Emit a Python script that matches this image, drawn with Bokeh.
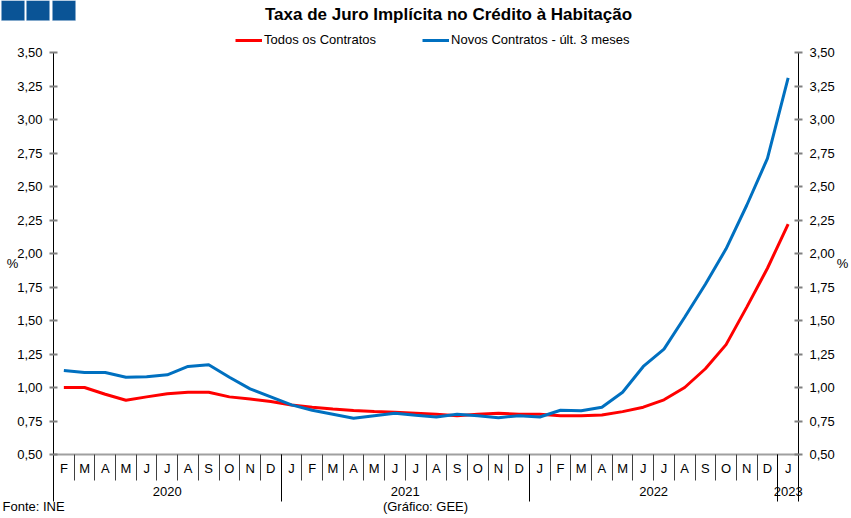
from bokeh.plotting import figure
from bokeh.models import (Range1d, LinearAxis, FixedTicker, Legend, LegendItem,
                          Label, BoxAnnotation, ColumnDataSource)
from bokeh.embed import file_html
from bokeh.resources import INLINE

# ---------------- data ----------------
months = ["F", "M", "A", "M", "J", "J", "A", "S", "O", "N", "D",
          "J", "F", "M", "A", "M", "J", "J", "A", "S", "O", "N", "D",
          "J", "F", "M", "A", "M", "J", "J", "A", "S", "O", "N", "D",
          "J"]
years = ["2020", "2021", "2022", "2023"]
months_per_year = [11, 12, 12, 1]

todos = [1.00, 1.00, 0.95, 0.905, 0.93, 0.953, 0.965, 0.965, 0.93, 0.915, 0.895,
         0.87, 0.853, 0.84, 0.828, 0.82, 0.815, 0.808, 0.80, 0.79, 0.80, 0.808, 0.80,
         0.80, 0.79, 0.79, 0.795, 0.82, 0.853, 0.908, 1.00, 1.14, 1.32, 1.60, 1.89,
         2.22]
novos = [1.127, 1.112, 1.112, 1.077, 1.08, 1.095, 1.157, 1.17, 1.077, 0.99, 0.93,
         0.87, 0.83, 0.80, 0.77, 0.79, 0.808, 0.793, 0.78, 0.80, 0.79, 0.774, 0.79,
         0.78, 0.83, 0.826, 0.853, 0.965, 1.157, 1.286, 1.524, 1.77, 2.035, 2.36, 2.71,
         3.31]
y_ticks = [0.50, 0.75, 1.00, 1.25, 1.50, 1.75, 2.00, 2.25, 2.50, 2.75, 3.00, 3.25, 3.50]
y_tick_labels = ["0,50", "0,75", "1,00", "1,25", "1,50", "1,75", "2,00",
                 "2,25", "2,50", "2,75", "3,00", "3,25", "3,50"]

title_text = "Taxa de Juro Implícita no Crédito à Habitação"
series_names = ["Todos os Contratos", "Novos Contratos - últ. 3 meses"]
unit_text = "%"
source_text = "Fonte: INE"
credit_text = "(Gráfico: GEE)"

# ---------------- layout (pixels) ----------------
W, H = 851, 518
PX0, PX1 = 53, 798      # left / right edge of plotting area
PY0, PY1 = 454, 52      # bottom / top edge of plotting area
FONT = "Liberation Sans"
FS = "13px"
RED = "#FF0000"
BLUE = "#0070C0"
LOGO = "#0A5496"

n = len(months)
xs = list(range(n))
x_lo, x_hi = -0.5, n - 0.5
y_lo, y_hi = y_ticks[0], y_ticks[-1]
ux = (PX1 - PX0) / (x_hi - x_lo)
uy = (PY0 - PY1) / (y_hi - y_lo)

def dx(px):
    return x_lo + (px - PX0) / ux

def dy(py):
    return y_lo + (PY0 - py) / uy

p = figure(width=W, height=H,
           x_range=Range1d(dx(0), dx(W)), y_range=Range1d(dy(H), dy(0)),
           output_backend="svg", toolbar_location=None,
           x_axis_location=None, y_axis_location=None, title_location=None,
           min_border=0)
p.outline_line_color = None
p.grid.visible = False
p.background_fill_color = "white"
p.border_fill_color = "white"

src = ColumnDataSource(dict(x=xs, todos=todos, novos=novos))
r1 = p.line("x", "todos", source=src, line_color=RED, line_width=3)
r2 = p.line("x", "novos", source=src, line_color=BLUE, line_width=3)

# ---------------- y axes ----------------
overrides = {t: l for t, l in zip(y_ticks, y_tick_labels)}
for side, loc in (("left", x_lo), ("right", x_hi)):
    ax = LinearAxis(ticker=FixedTicker(ticks=y_ticks, minor_ticks=[]),
                    fixed_location=loc, bounds=(y_lo, y_hi),
                    major_label_overrides=overrides,
                    axis_line_color="black", axis_line_width=1,
                    major_tick_line_color="#808080", major_tick_line_width=2,
                    major_tick_in=4, major_tick_out=4,
                    minor_tick_line_color=None,
                    major_label_standoff=7,
                    major_label_text_font=FONT,
                    major_label_text_font_size=FS,
                    major_label_text_color="black")
    p.add_layout(ax, side)

# ---------------- x axes ----------------
bounds = [i - 0.5 for i in range(n + 1)]
year_centers = []
year_bounds = [x_lo]
start = 0
for c in months_per_year:
    year_centers.append(start + (c - 1) / 2)
    start += c
    year_bounds.append(start - 0.5)

# month separators
ax_sep = LinearAxis(ticker=FixedTicker(ticks=bounds, minor_ticks=[]),
                    fixed_location=y_lo, bounds=(x_lo, x_hi),
                    axis_line_color="#A0A0A0", axis_line_width=2,
                    major_tick_line_color="#404040", major_tick_line_width=1,
                    major_tick_in=0, major_tick_out=26,
                    minor_tick_line_color=None,
                    major_label_text_color=None, major_label_text_font_size="1px")
p.add_layout(ax_sep, "below")

# year separators
ax_ysep = LinearAxis(ticker=FixedTicker(ticks=year_bounds, minor_ticks=[]),
                     fixed_location=y_lo, bounds=(x_lo, x_hi),
                     axis_line_color=None,
                     major_tick_line_color="black", major_tick_line_width=1,
                     major_tick_in=0, major_tick_out=47,
                     minor_tick_line_color=None,
                     major_label_text_color=None, major_label_text_font_size="1px")
p.add_layout(ax_ysep, "below")

# month labels
ax_m = LinearAxis(ticker=FixedTicker(ticks=xs, minor_ticks=[]),
                  fixed_location=y_lo, bounds=(x_lo, x_hi),
                  major_label_overrides={i: m for i, m in enumerate(months)},
                  axis_line_color=None,
                  major_tick_line_color=None, major_tick_in=0, major_tick_out=0,
                  minor_tick_line_color=None,
                  major_label_standoff=6,
                  major_label_text_font=FONT, major_label_text_font_size=FS,
                  major_label_text_color="black")
p.add_layout(ax_m, "below")

# year labels
ax_y = LinearAxis(ticker=FixedTicker(ticks=year_centers, minor_ticks=[]),
                  fixed_location=y_lo, bounds=(x_lo, x_hi),
                  major_label_overrides={c: y for c, y in zip(year_centers, years)},
                  axis_line_color=None,
                  major_tick_line_color=None, major_tick_in=0, major_tick_out=0,
                  minor_tick_line_color=None,
                  major_label_standoff=32,
                  major_label_text_font=FONT, major_label_text_font_size=FS,
                  major_label_text_color="black")
p.add_layout(ax_y, "below")

# ---------------- legend ----------------
legend = Legend(items=[LegendItem(label=series_names[0], renderers=[r1]),
                       LegendItem(label=series_names[1], renderers=[r2])],
                orientation="horizontal", location=(235, H - 47),
                glyph_width=27, glyph_height=14, label_standoff=2, spacing=46,
                padding=0, margin=0, border_line_color=None,
                background_fill_alpha=0,
                label_text_font=FONT, label_text_font_size=FS,
                label_text_color="black", label_height=14)
p.add_layout(legend, "center")

# ---------------- texts ----------------
def txt(px, py, text, align="center", size=FS, style="normal"):
    p.add_layout(Label(x=dx(px), y=dy(py), text=text, text_align=align,
                       text_baseline="middle", text_font=FONT, text_font_size=size,
                       text_font_style=style, text_color="black"))

txt(448, 14, title_text, size="17px", style="bold")
txt(12, 263, unit_text)
txt(842, 263, unit_text)
txt(2, 506, source_text, align="left")
txt(425, 506, credit_text)

# logo squares
for l, r in ((1, 24), (26, 49), (52, 75)):
    p.add_layout(BoxAnnotation(left=dx(l), right=dx(r), top=dy(0), bottom=dy(20),
                               fill_color=LOGO, fill_alpha=1,
                               line_color="#7FA6CC", line_width=1))

open("out.html", "w").write(file_html(p, INLINE))
